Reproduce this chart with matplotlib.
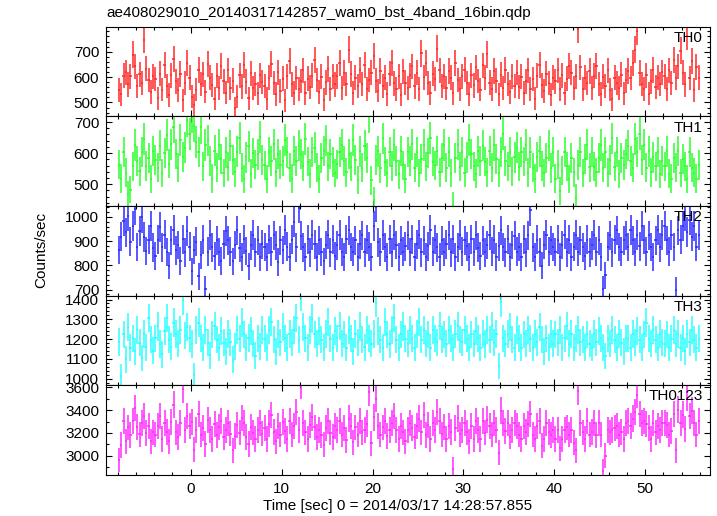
import numpy as np
import matplotlib
matplotlib.use('Agg')
import matplotlib.pyplot as plt
from matplotlib.ticker import MultipleLocator

plt.rcParams['font.family'] = ['Liberation Sans', 'DejaVu Sans']

title = 'ae408029010_20140317142857_wam0_bst_4band_16bin.qdp'
xlabel = 'Time [sec] 0 = 2014/03/17 14:28:57.855'
ylabel = 'Counts/sec'

bin_size = 0.25   # sec
t_start = -8.0

names = ['TH0', 'TH1', 'TH2', 'TH3', 'TH0123']
colors = ['#ff2a2a', '#2aff2a', '#2a2aff', '#2affff', '#ff2aff']

# count rates, 0.25 s bins from -8 s
th0 = [548, 532, 605, 619, 571, 603, 688, 642, 566, 611, 577, 748, 633, 589, 541, 604,
       592, 517, 613, 551, 648, 566, 529, 607, 671, 583, 548, 612, 509, 577, 655, 598,
       523, 489, 551, 628, 574, 611, 543, 652, 597, 568, 514, 606, 557, 643, 583, 539,
       627, 555, 586, 478, 522, 608, 563, 647, 582, 517, 615, 558, 574, 536, 607, 581,
       566, 514, 598, 651, 577, 533, 619, 545, 594, 509, 603, 662, 571, 538, 596, 552,
       584, 627, 537, 593, 562, 606, 668, 588, 541, 602, 511, 579, 631, 553, 604, 571,
       603, 654, 558, 616, 574, 708, 612, 537, 597, 566, 628, 573, 648, 552, 589, 617,
       683, 586, 547, 624, 566, 598, 533, 614, 657, 575, 552, 604, 531, 622, 578, 557,
       607, 642, 563, 618, 554, 694, 599, 656, 577, 538, 613, 592, 712, 626, 565, 603,
       558, 624, 597, 536, 657, 588, 552, 603, 629, 576, 534, 608, 567, 638, 584, 551,
       646, 597, 689, 578, 553, 624, 586, 532, 609, 557, 628, 574, 541, 603, 566, 618,
       562, 601, 537, 583, 627, 554, 592, 514, 606, 648, 567, 545, 613, 577, 531, 598,
       583, 626, 552, 607, 536, 594, 645, 617, 558, 603, 791, 638, 553, 597, 576, 624,
       557, 606, 643, 574, 533, 602, 566, 627, 551, 512, 598, 577, 558, 609, 536, 587,
       624, 596, 657, 708, 783, 616, 574, 553, 607, 535, 583, 628, 561, 598, 572, 619,
       604, 553, 626, 577, 668, 597, 642, 703, 618, 571, 762, 596, 664, 549, 641, 598]

th1 = [563, 518, 604, 537, 468, 482, 557, 626, 575, 541, 603, 646, 558, 584, 516, 607,
       578, 553, 624, 536, 601, 657, 566, 628, 684, 597, 553, 643, 588, 617, 706, 662,
       718, 688, 636, 604, 683, 557, 626, 641, 574, 518, 608, 553, 627, 581, 536, 602,
       556, 624, 577, 538, 605, 648, 553, 517, 586, 622, 534, 601, 563, 596, 652, 578,
       561, 517, 603, 576, 628, 538, 597, 563, 574, 643, 602, 553, 518, 607, 576, 624,
       597, 558, 646, 573, 534, 604, 618, 553, 516, 583, 607, 641, 557, 598, 572, 536,
       564, 603, 627, 574, 538, 597, 556, 643, 578, 514, 606, 553, 624, 583, 718, 512,
       448, 577, 606, 552, 647, 573, 536, 604, 558, 626, 574, 532, 607, 561, 518, 603,
       576, 628, 553, 604, 536, 582, 626, 557, 601, 648, 573, 561, 607, 538, 584, 626,
       553, 604, 536, 432, 583, 627, 556, 604, 537, 586, 643, 598, 557, 534, 606, 574,
       624, 573, 538, 607, 553, 626, 581, 536, 604, 663, 576, 557, 603, 542, 586, 618,
       556, 604, 573, 626, 537, 602, 553, 518, 587, 606, 558, 536, 583, 624, 552, 603,
       518, 563, 478, 543, 604, 557, 516, 584, 538, 457, 562, 603, 536, 582, 627, 554,
       604, 556, 538, 583, 626, 553, 602, 537, 578, 647, 556, 604, 533, 584, 562, 597,
       623, 576, 553, 646, 604, 663, 578, 627, 553, 606, 538, 586, 557, 604, 533, 576,
       557, 606, 534, 518, 584, 553, 607, 536, 582, 557, 516, 604, 553, 537, 518, 562]

th2 = [864, 918, 983, 936, 1004, 897, 962, 1032, 876, 943, 998, 917, 858, 906, 964, 873,
       838, 906, 958, 874, 927, 856, 798, 903, 946, 862, 884, 818, 907, 853, 942, 877,
       776, 863, 897, 754, 843, 906, 703, 857, 926, 874, 838, 904, 856, 817, 886, 943,
       903, 857, 816, 884, 944, 873, 836, 907, 858, 796, 883, 926, 853, 904, 836, 887,
       876, 834, 906, 857, 924, 883, 814, 903, 864, 946, 877, 836, 906, 978, 874, 1038,
       923, 874, 836, 907, 853, 926, 887, 834, 904, 856, 816, 884, 927, 853, 906, 838,
       883, 926, 854, 836, 907, 944, 876, 857, 903, 834, 886, 924, 853, 906, 877, 836,
       964, 1042, 896, 854, 926, 874, 836, 907, 853, 926, 884, 836, 903, 857, 878, 924,
       856, 907, 834, 886, 927, 853, 904, 836, 878, 946, 857, 906, 874, 834, 903, 856,
       886, 924, 853, 907, 836, 874, 926, 857, 903, 878, 834, 907, 856, 924, 873, 838,
       904, 853, 884, 926, 857, 906, 834, 878, 944, 876, 853, 907, 836, 884, 923, 857,
       876, 836, 907, 853, 924, 1028, 874, 836, 906, 853, 798, 884, 926, 857, 903, 876,
       854, 906, 836, 884, 927, 853, 906, 834, 877, 926, 857, 903, 874, 838, 906, 853,
       883, 926, 857, 904, 836, 702, 758, 877, 924, 853, 906, 944, 876, 857, 903, 924,
       876, 946, 903, 854, 926, 878, 964, 906, 857, 924, 876, 836, 904, 946, 874, 926,
       963, 904, 857, 926, 876, 698, 944, 906, 963, 1004, 937, 986, 918, 963, 876, 924]

th3 = [1186, 1012, 1224, 1098, 1263, 1157, 1204, 1138, 1246, 1183, 1104, 1226, 1158, 1306, 1197, 1142,
       1204, 1264, 1176, 1123, 1243, 1306, 1198, 1162, 1284, 1226, 1177, 1245, 1396, 1218, 1263, 1204,
       1176, 1018, 1248, 1284, 1203, 1156, 1246, 1183, 1118, 1224, 1268, 1197, 1156, 1243, 1182, 1137,
       1226, 1184, 1097, 1163, 1246, 1203, 1284, 1224, 1157, 1206, 1243, 1178, 1117, 1204, 1163, 1246,
       1203, 1156, 1244, 1286, 1198, 1137, 1226, 1184, 1263, 1204, 1157, 1226, 1183, 1248, 1306, 1197,
       1418, 1263, 1204, 1158, 1246, 1304, 1224, 1177, 1243, 1198, 1156, 1226, 1286, 1203, 1157, 1243,
       1204, 1266, 1178, 1224, 1156, 1247, 1203, 1138, 1226, 1184, 1264, 1197, 1158, 1246, 1203, 1177,
       1226, 1384, 1243, 1198, 1157, 1286, 1224, 1176, 1246, 1306, 1197, 1156, 1224, 1264, 1203, 1178,
       1244, 1203, 1157, 1226, 1286, 1198, 1246, 1177, 1224, 1156, 1247, 1203, 1184, 1266, 1197, 1224,
       1178, 1246, 1203, 1157, 1226, 1264, 1198, 1184, 1246, 1203, 1156, 1224, 1177, 1243, 1204, 1157,
       1226, 1176, 1244, 1198, 1264, 1183, 1226, 1063, 1386, 1204, 1177, 1226, 1263, 1198, 1157, 1246,
       1203, 1157, 1224, 1178, 1246, 1203, 1156, 1226, 1184, 1263, 1198, 1137, 1204, 1158, 1226, 1177,
       1224, 1183, 1246, 1157, 1204, 1266, 1178, 1226, 1157, 1203, 1246, 1184, 1198, 1156, 1224, 1177,
       1157, 1226, 1184, 1243, 1204, 1157, 1116, 1203, 1178, 1246, 1198, 1157, 1226, 1183, 1137, 1204,
       1203, 1157, 1226, 1184, 1243, 1198, 1157, 1224, 1284, 1203, 1177, 1246, 1198, 1157, 1226, 1184,
       1178, 1224, 1157, 1203, 1246, 1178, 1226, 1156, 1204, 1138, 1226, 1184, 1246, 1198, 1157, 1203]

th0123 = [2962, 3094, 3306, 3127, 3248, 3183, 3302, 3418, 3256, 3187, 3284, 3346, 3198, 3263, 3127, 3204,
          3186, 3263, 3348, 3147, 3284, 3206, 3127, 3296, 3448, 3204, 3167, 3286, 3582, 3227, 3348, 3263,
          3296, 3054, 3228, 3364, 3186, 3247, 3103, 3316, 3227, 3148, 3276, 3184, 3253, 3304, 3166, 3226,
          3286, 3194, 3048, 3176, 3268, 3203, 3334, 3286, 3167, 3104, 3256, 3203, 3146, 3226, 3286, 3194,
          3246, 3148, 3283, 3357, 3206, 3127, 3264, 3186, 3298, 3216, 3148, 3304, 3186, 3263, 3384, 3226,
          3618, 3286, 3204, 3148, 3266, 3336, 3248, 3166, 3227, 3184, 3096, 3246, 3306, 3203, 3167, 3264,
          3226, 3304, 3186, 3247, 3136, 3326, 3264, 3117, 3248, 3186, 3306, 3204, 3227, 3283, 3556, 3108,
          3337, 3498, 3264, 3186, 3248, 3306, 3176, 3226, 3284, 3346, 3228, 3148, 3264, 3204, 3127, 3226,
          3286, 3247, 3168, 3264, 3326, 3204, 3356, 3183, 3266, 3148, 3284, 3226, 3384, 3306, 3187, 3256,
          3146, 3264, 3206, 2884, 3246, 3328, 3187, 3226, 3284, 3204, 3126, 3264, 3148, 3304, 3226, 3146,
          3306, 3203, 3318, 3264, 3186, 3284, 3226, 3026, 3396, 3286, 3214, 3286, 3168, 3226, 3284, 3264,
          3186, 3148, 3264, 3206, 3278, 3366, 3186, 3146, 3264, 3306, 3088, 3148, 3286, 3206, 3184, 3226,
          3146, 3226, 3064, 3148, 3226, 3248, 3186, 3226, 3114, 3046, 3566, 3286, 3204, 3146, 3306, 3186,
          3206, 3286, 3184, 3284, 3186, 2866, 2998, 3226, 3204, 3226, 3246, 3264, 3186, 3206, 3148, 3284,
          3304, 3264, 3326, 3384, 3536, 3364, 3286, 3306, 3278, 3246, 3148, 3286, 3204, 3264, 3226, 3286,
          3286, 3266, 3186, 3218, 3368, 3046, 3406, 3286, 3362, 3236, 3508, 3346, 3396, 3286, 3186, 3304]

rates = [th0, th1, th2, th3, th0123]

ylims = [(445, 798), (430, 718), (675, 1045), (968, 1420), (2833, 3620)]
ymajor = [100, 100, 100, 100, 200]
yminor = [20, 20, 20, 20, 100]
xlim = (-9.3, 57.1)

fig = plt.figure(figsize=(7.17, 5.16), dpi=100)
axes = fig.subplots(5, 1, sharex=True, gridspec_kw={'hspace': 0})
fig.subplots_adjust(left=0.148, right=0.990, top=0.948, bottom=0.080)

for i, ax in enumerate(axes):
    r = np.array(rates[i], dtype=float)
    t = t_start + bin_size * (np.arange(len(r)) + 0.5)
    err = np.sqrt(r * bin_size) / bin_size   # poisson error
    ax.errorbar(t, r, xerr=bin_size / 2, yerr=err, fmt='none',
                ecolor=colors[i], elinewidth=1.1, capsize=0)
    ax.set_xlim(*xlim)
    ax.set_ylim(*ylims[i])
    ax.yaxis.set_major_locator(MultipleLocator(ymajor[i]))
    ax.yaxis.set_minor_locator(MultipleLocator(yminor[i]))
    ax.xaxis.set_major_locator(MultipleLocator(10))
    ax.xaxis.set_minor_locator(MultipleLocator(2))
    ax.tick_params(which='both', direction='in', top=True, right=True,
                   labelsize=11, width=0.8, pad=5)
    ax.tick_params(which='major', length=4.5)
    ax.tick_params(which='minor', length=2.5)
    for s in ax.spines.values():
        s.set_linewidth(0.8)
    ax.text(0.988, 0.875, names[i], transform=ax.transAxes, ha='right',
            va='center', fontsize=11)

fig.text(0.149, 0.967, title, ha='left', va='baseline', fontsize=11)
fig.text(0.058, 0.515, ylabel, rotation=90, ha='center', va='center', fontsize=11)
fig.text(0.555, 0.019, xlabel, ha='center', va='center', fontsize=11)

fig.savefig('out.png', dpi=100)
